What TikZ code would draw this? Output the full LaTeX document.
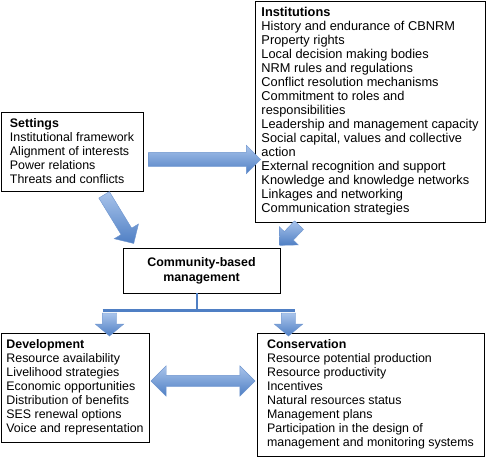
\documentclass[tikz,border=0pt]{standalone}
\usepackage{fontspec}
\setmainfont{Liberation Sans}
\usetikzlibrary{shapes.arrows}
\definecolor{arrowlight}{HTML}{A9C4EB}
\definecolor{arrowdark}{HTML}{4F7FC4}
\definecolor{arrowline}{HTML}{6E95CF}
\begin{document}
\begin{tikzpicture}[x=1pt, y=-1pt,
    box/.style = {draw, line width=0.8pt, align=left, inner sep=1pt, font=\fontsize{12.4}{14}\selectfont},
    bigarrow/.style = {single arrow, draw=arrowline, top color=arrowlight, bottom color=arrowdark,
      inner xsep=0pt, inner ysep=7pt, single arrow head extend=7pt, sloped, allow upside down},
    dblarrow/.style = {double arrow, draw=arrowline, top color=arrowlight, bottom color=arrowdark,
      inner xsep=0pt, inner ysep=5.5pt, double arrow head extend=9.5pt},
    stem/.style = {draw=arrowdark, line width=2.5pt}]
  \useasboundingbox (0,0) rectangle (486,457);
  %
  \node[box, minimum width=142pt, minimum height=79pt] (settings) at (72,151.5)
    {\textbf{Settings}\\Institutional framework\\Alignment of interests\\Power relations\\Threats and conflicts};
  \node[box, minimum width=230pt, minimum height=221pt, font=\fontsize{12.8}{14}\selectfont] (inst) at (370,111.5)
    {\textbf{Institutions}\\History and endurance of CBNRM\\Property rights\\Local decision making bodies\\
     NRM rules and regulations\\Conflict resolution mechanisms\\Commitment to roles and\\responsibilities\\
     Leadership and management capacity\\Social capital, values and collective\\action\\
     External recognition and support\\Knowledge and knowledge networks\\Linkages and networking\\
     Communication strategies};
  \node[box, align=center, minimum width=157pt, minimum height=45pt,
    font=\fontsize{12.4}{15}\selectfont\bfseries] (cbm) at (201.5,270.5)
    {Community-based\\management};
  \node[box, minimum width=148pt, minimum height=109pt] (dev) at (75,387.5)
    {\textbf{Development}\\Resource availability\\Livelihood strategies\\Economic opportunities\\
     Distribution of benefits\\SES renewal options\\Voice and representation};
  \node[box, minimum width=227pt, minimum height=123pt] (cons) at (370.5,394.5)
    {\textbf{Conservation}\\Resource potential production\\Resource productivity\\Incentives\\
     Natural resources status\\Management plans\\Participation in the design of\\
     management and monitoring systems};
  %
  \coordinate (sa) at ([xshift=2pt, yshift=-8pt]settings.east);
  \coordinate (split) at ([xshift=-4.5pt, yshift=-17pt]cbm.south);
  \coordinate (devtop) at ([xshift=34.5pt]dev.north);
  \coordinate (constop) at ([xshift=-82pt]cons.north);
  \coordinate (da) at ([yshift=6.5pt]dev.east);
  %
  \path (sa) -- node[bigarrow, minimum height=112pt] {} ([xshift=2pt]sa -| inst.west);
  \path ([xshift=30pt]settings.south) -- node[bigarrow, minimum height=57pt, inner ysep=6pt,
    single arrow head extend=8pt] {} ([xshift=10pt, yshift=6pt]cbm.north west);
  \path ([xshift=47pt]inst.south west) -- node[bigarrow, minimum height=28pt, inner ysep=6pt] {}
    ([xshift=1pt, yshift=4pt]cbm.north east);
  \draw[stem] ([xshift=-4.5pt]cbm.south) -- (split);
  \draw[stem] ([xshift=-7pt]split -| devtop) -- ([xshift=6.5pt]split -| constop);
  \path (split -| devtop) -- node[bigarrow, minimum height=23pt, single arrow tip angle=100] {} (devtop);
  \path (split -| constop) -- node[bigarrow, minimum height=23pt, single arrow tip angle=100] {} (constop);
  \path (da) -- node[dblarrow, minimum height=104pt] {} (da -| cons.west);
\end{tikzpicture}
\end{document}
